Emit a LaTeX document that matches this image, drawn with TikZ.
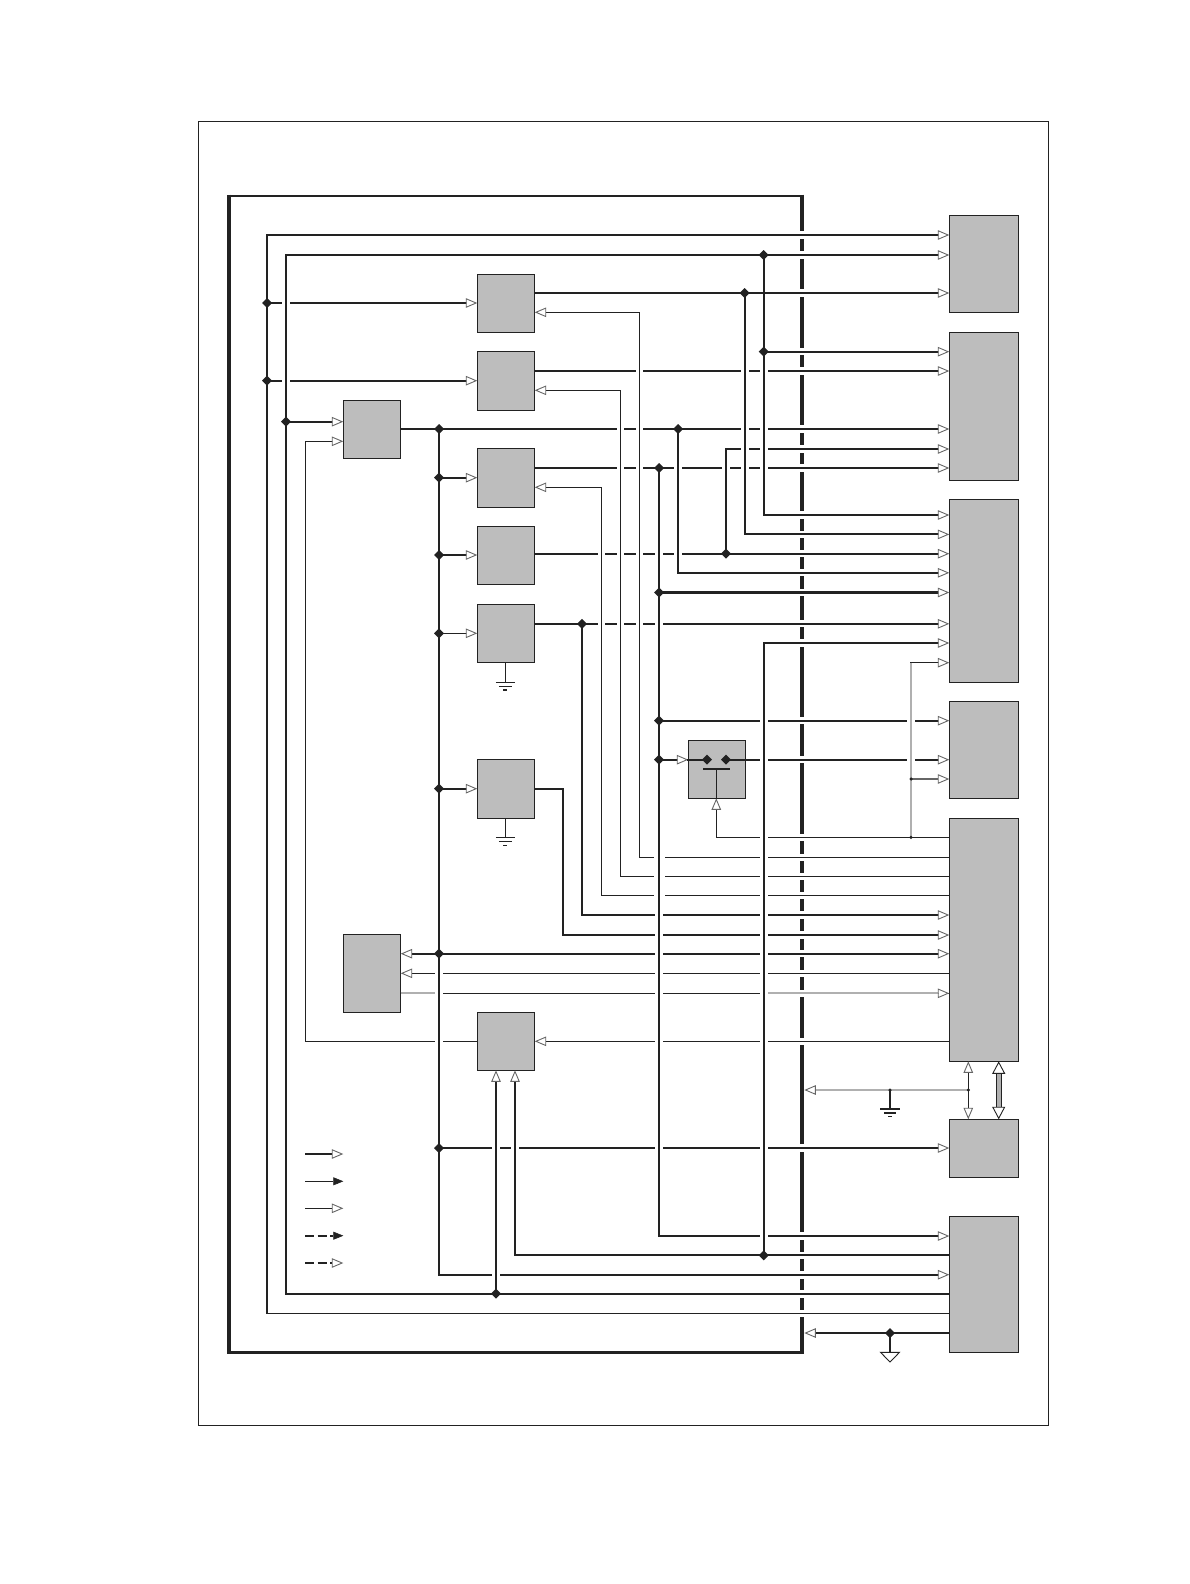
\documentclass[tikz,border=0pt]{standalone}
\usetikzlibrary{arrows.meta,shapes.geometric}
\definecolor{ink}{HTML}{222222}
\definecolor{blockgray}{HTML}{BDBDBD}
\definecolor{headgray}{HTML}{666666}
\definecolor{palegray}{HTML}{B0B0B0}
\tikzset{
  x=1pt,y=-1pt,
  blockbox/.style={rectangle,draw=ink,fill=blockgray,line width=1pt,inner sep=0pt,outer sep=0pt},
  wthick/.style={draw=ink,line width=2.1pt,line cap=rect},
  wthin/.style={draw=ink,line width=1.05pt,line cap=rect},
  wgray/.style={draw=palegray,line width=1.8pt},
  wmid/.style={draw=headgray,line width=1.1pt},
  buswide/.style={draw=ink,line width=3.8pt,line cap=butt,shorten <=-1.4pt,shorten >=-1.4pt},
  busflat/.style={draw=ink,line width=2.8pt,line cap=butt},
  opn/.tip={Triangle[length=11.5pt,width=9.5pt,color=headgray,fill=white,line width=.9pt]},
  fil/.tip={Triangle[length=10pt,width=8pt,color=ink,fill=ink,line width=.5pt]},
  bigopn/.tip={Triangle[length=12.5pt,width=13pt,color=ink,fill=white,line width=.9pt]},
  toopen/.style={-{opn}},
  fromopen/.style={{opn}-},
  jdia/.style={diamond,fill=ink,inner sep=0pt,outer sep=0pt,minimum size=10pt},
  jdot/.style={circle,fill=ink,inner sep=0pt,outer sep=0pt,minimum size=3.5pt},
}
\newcommand{\blk}[5]{\node[blockbox,minimum width=#4-#2,minimum height=#5-#3] (#1) at ({(#2+#4)/2},{(#3+#5)/2}) {};}
\newcommand{\gbars}[4]{%
  \draw[wthin,line cap=butt] ([xshift=-#2pt]#1) -- ([xshift=#2pt]#1);
  \draw[wthin,line cap=butt] ([xshift=-#3pt,yshift=-4pt]#1) -- ([xshift=#3pt,yshift=-4pt]#1);
  \draw[wthin,line cap=butt] ([xshift=-#4pt,yshift=-7.7pt]#1) -- ([xshift=#4pt,yshift=-7.7pt]#1);}
\begin{document}
\begin{tikzpicture}
\useasboundingbox (0,0) rectangle (1190,1584);
\fill[white] (0,0) rectangle (1190,1584);
\draw[draw=ink,line width=.9pt] (198,121) rectangle (1048.5,1425.5);

% blocks
\blk{A}{477.3}{274.3}{534.7}{332.7}
\blk{B}{477.3}{351.3}{534.7}{410.3}
\blk{D}{477.3}{448.3}{534.7}{507.3}
\blk{E}{477.3}{526.3}{534.7}{584.3}
\blk{F}{477.3}{604.3}{534.7}{662.5}
\blk{G}{477.3}{759.7}{534.7}{818.3}
\blk{H}{477.3}{1012.3}{534.7}{1070.3}
\blk{C}{343.3}{400.3}{400.7}{458.3}
\blk{L}{343.3}{934.3}{400.7}{1012.3}
\blk{S}{688.3}{740.3}{745.7}{798.3}
\blk{Ra}{949.3}{215.3}{1018.7}{312.3}
\blk{Rb}{949.3}{332.3}{1018.7}{480.3}
\blk{Rc}{949.3}{499.3}{1018.7}{682.3}
\blk{Rd}{949.3}{701.3}{1018.7}{798.3}
\blk{Re}{949.3}{818.3}{1018.7}{1061.3}
\blk{Rf}{949.3}{1119.3}{1018.7}{1177.3}
\blk{Rg}{949.3}{1216.3}{1018.7}{1352.7}

% named points
\coordinate (busNW) at (229,196);
\coordinate (busNE) at (802.2,196);
\coordinate (busSW) at (229,1352.5);
\coordinate (busSE) at (802.2,1352.5);
\coordinate (tA) at (267,235);
\coordinate (tB) at (286,255);
\coordinate (bA) at (267,1313.3);
\coordinate (bB) at (286,1293.7);
\coordinate (jaA) at (267,303);
\coordinate (jaB) at (267,380.7);
\coordinate (jbC) at (286,421.7);
\coordinate (kC) at (305.3,441.3);
\coordinate (kH) at (305.3,1041.3);
\coordinate (jmT) at (439,429);
\coordinate (jmD) at (439,477.7);
\coordinate (jmE) at (439,555);
\coordinate (jmF) at (439,633.3);
\coordinate (jmG) at (439,788.7);
\coordinate (jmL) at (439,953.7);
\coordinate (jmR) at (439,1148);
\coordinate (bM) at (439,1274.7);
\coordinate (jw1) at (763.7,255);
\coordinate (j293) at (744.7,293);
\coordinate (jw2) at (763.7,351.7);
\coordinate (kw3) at (763.7,515);
\coordinate (k534) at (744.7,534.4);
\coordinate (y371) at (600,371);
\coordinate (j678) at (678,429);
\coordinate (k726) at (726,449);
\coordinate (j659) at (659,468);
\coordinate (j726) at (726,553.7);
\coordinate (k678) at (678,572.8);
\coordinate (j592) at (659,592.5);
\coordinate (j582) at (582,623.8);
\coordinate (k643) at (763.7,643);
\coordinate (k662) at (911,662.7);
\coordinate (j720) at (659,720.7);
\coordinate (j759) at (659,759.7);
\coordinate (dL) at (707,759.7);
\coordinate (dR) at (726,759.7);
\coordinate (barL) at (703,769);
\coordinate (barR) at (730,769);
\coordinate (barM) at (716.3,769);
\coordinate (d779) at (911,779);
\coordinate (d837) at (911,837.3);
\coordinate (k837) at (716.3,837.3);
\coordinate (qa) at (639.5,312.3);
\coordinate (qab) at (639.5,857.3);
\coordinate (qb) at (620.3,390.3);
\coordinate (qbb) at (620.3,876.3);
\coordinate (qc) at (601.3,487.3);
\coordinate (qcb) at (601.3,895.7);
\coordinate (k915) at (582,915);
\coordinate (g788) at (563,788.7);
\coordinate (k935) at (563,935);
\coordinate (y973) at (600,973.3);
\coordinate (y993) at (600,993.3);
\coordinate (g993a) at (435,993.3);
\coordinate (g993b) at (768,993.3);
\coordinate (k1236) at (659,1236);
\coordinate (j1255) at (763.7,1255.3);
\coordinate (k1255) at (515,1255.3);
\coordinate (j1294) at (496,1293.7);
\coordinate (d1090a) at (968.3,1090);
\coordinate (d1090b) at (890,1090);
\coordinate (bus1090) at (804.3,1090);
\coordinate (bus1333) at (804.3,1333);
\coordinate (j1333) at (890,1333);
\coordinate (gF) at (505.3,682.3);
\coordinate (gG) at (505.3,837.5);
\coordinate (gX) at (890,1109);
\coordinate (triTop) at (890,1352.3);
\coordinate (triL) at (880.5,1352.3);
\coordinate (triR) at (899.5,1352.3);
\coordinate (triB) at (890,1362);
\coordinate (xa) at (968.3,1061.3);
\coordinate (xb) at (998.7,1061.3);

% backbone
\draw[buswide] (busNW) -- (busSW);
\draw[buswide] (busNE) -- (busSE);
\draw[busflat] (busNW) -- (busNE);
\draw[busflat] (busSW) -- (busSE);
\foreach \y in {235,255,293,351.7,371,429,449,468,515,534.4,553.7,572.8,592.5,623.8,643,720.7,759.7,837.3,857.3,876.3,895.7,915,935,953.7,973.3,993.3,1041.3,1148,1236,1255.3,1275,1294,1313.3}
  \fill[white] (796,{\y-3.6}) rectangle (808,{\y+3.6});

% horizontal wires
\draw[wthick,toopen] (tA) -- (Ra.west |- tA);
\draw[wthick,toopen] (tB) -- (Ra.west |- tB);
\draw[wthick,toopen] (A.east |- j293) -- (Ra.west |- j293);
\draw[wthick,toopen] (jaA) -- (A.west |- jaA);
\draw[wthick,toopen] (jaB) -- (B.west |- jaB);
\draw[wthick,toopen] (jw2) -- (Rb.west |- jw2);
\draw[wthick,toopen] (B.east |- y371) -- (Rb.west |- y371);
\draw[wthick,toopen] (jbC) -- (C.west |- jbC);
\draw[wthick,toopen] (C.east |- jmT) -- (Rb.west |- jmT);
\draw[wthick,toopen] (k726) -- (Rb.west |- k726);
\draw[wthick,toopen] (D.east |- j659) -- (Rb.west |- j659);
\draw[wthick,toopen] (jmD) -- (D.west |- jmD);
\draw[wthick,toopen] (jmE) -- (E.west |- jmE);
\draw[wthin,toopen] (jmF) -- (F.west |- jmF);
\draw[wthick,toopen] (jmG) -- (G.west |- jmG);
\draw[wthick] (G.east |- g788) -- (g788);
\draw[wthick,toopen] (kw3) -- (Rc.west |- kw3);
\draw[wthick,toopen] (k534) -- (Rc.west |- k534);
\draw[wthick,toopen] (E.east |- j726) -- (Rc.west |- j726);
\draw[wthick,toopen] (k678) -- (Rc.west |- k678);
\draw[wthick,toopen] (j592) -- (Rc.west |- j592);
\draw[wthick,toopen] (F.east |- j582) -- (Rc.west |- j582);
\draw[wthick,toopen] (k643) -- (Rc.west |- k643);
\draw[wthin,toopen] (k662) -- (Rc.west |- k662);
\draw[wthick,toopen] (j720) -- (Rd.west |- j720);
\draw[wthick,toopen] (j759) -- (S.west |- j759);
\draw[wthick] (S.west |- j759) -- (dL);
\draw[wthick,toopen] (dR) -- (Rd.west |- dR);
\draw[wmid,toopen] (d779) -- (Rd.west |- d779);
\draw[wthin] (Re.west |- k837) -- (k837);
\draw[wthin,fromopen] (A.east |- qa) -- (qa);
\draw[wthin,fromopen] (B.east |- qb) -- (qb);
\draw[wthin,fromopen] (D.east |- qc) -- (qc);
\draw[wthin] (qab) -- (Re.west |- qab);
\draw[wthin] (qbb) -- (Re.west |- qbb);
\draw[wthin] (qcb) -- (Re.west |- qcb);
\draw[wthick,toopen] (k915) -- (Re.west |- k915);
\draw[wthick,toopen] (k935) -- (Re.west |- k935);
\draw[wthick,{opn}-{opn}] (L.east |- jmL) -- (Re.west |- jmL);
\draw[wthin,fromopen] (L.east |- y973) -- (Re.west |- y973);
\draw[wthin] (L.east |- y993) -- (Re.west |- y993);
\draw[wthin,fromopen] (H.east |- kH) -- (Re.west |- kH);
\draw[wthin] (kH) -- (H.west |- kH);
\draw[wthin,toopen] (kH |- kC) -- (C.west |- kC);
\draw[wthick,toopen] (jmR) -- (Rf.west |- jmR);
\draw[wthick,toopen] (k1236) -- (Rg.west |- k1236);
\draw[wthick] (k1255) -- (Rg.west |- k1255);
\draw[wthick,toopen] (bM) -- (Rg.west |- bM);
\draw[wthick] (bB) -- (Rg.west |- bB);
\draw[wthin] (bA) -- (Rg.west |- bA);
\draw[wthick,fromopen] (bus1333) -- (Rg.west |- bus1333);

% crossing gaps in the horizontal wires
\foreach \x/\y/\h in {
  286/303/4.2, 286/380.7/4.2,
  639.5/371/3.5, 744.7/371/4.2, 763.7/371/3.9,
  620.3/429/3.7, 639.5/429/3.5, 744.7/429/4.2, 763.7/429/3.9,
  744.7/449/4.2, 763.7/449/3.9,
  620.3/468/3.7, 639.5/468/3.5, 678/468/4, 726/468/3.7, 744.7/468/4.2, 763.7/468/3.9,
  601.3/553.7/3.5, 620.3/553.7/3.5, 639.5/553.7/3.5, 659/553.7/4, 678/553.7/4,
  601.3/623.8/3.5, 620.3/623.8/3.5, 639.5/623.8/3.5, 659/623.8/4,
  763.7/720.7/3.9, 911/720.7/4.2, 763.7/759.7/3.9, 911/759.7/4.2,
  763.7/837.3/3.9,
  659/857.3/5.5, 763.7/857.3/3.9, 659/876.3/5.5, 763.7/876.3/3.9, 659/895.7/5.5, 763.7/895.7/3.9,
  659/915/4, 763.7/915/3.9, 659/935/4, 763.7/935/3.9, 659/953.7/4, 763.7/953.7/3.9,
  439/973.3/4, 659/973.3/4, 763.7/973.3/3.9,
  439/993.3/4, 659/993.3/4, 763.7/993.3/3.9,
  439/1041.3/4, 659/1041.3/4, 763.7/1041.3/3.9,
  496/1148/4, 515/1148/4.2, 659/1148/4, 763.7/1148/3.9,
  763.7/1236/3.9, 496/1275/4}
  \fill[white] ({\x-\h},{\y-2}) rectangle ({\x+\h},{\y+2});

% pale overlays
\draw[wgray] (L.east |- y993) -- (g993a);
\draw[wgray,toopen] (g993b) -- (Re.west |- y993);
\draw[wgray,-{opn}] (d1090a) -- (bus1090);

% vertical wires
\draw[wthick] (tA) -- (bA);
\draw[wthick] (tB) -- (bB);
\draw[wthick,line width=2.3pt] (jmT) -- (bM);
\draw[wthick] (jw1) -- (kw3);
\draw[wthick] (j293) -- (k534);
\draw[wthick] (j678) -- (k678);
\draw[wthick] (k726) -- (j726);
\draw[wthick] (j659) -- (k1236);
\draw[wthick] (j582) -- (k915);
\draw[wthick] (g788) -- (k935);
\draw[wthick] (k643) -- (j1255);
\draw[wthin] (qa) -- (qab);
\draw[wthin] (qb) -- (qbb);
\draw[wthin] (qc) -- (qcb);
\draw[wthin] (kC) -- (kH);
\draw[wgray] (k662) -- (d837);
\draw[wthin,line cap=butt,-{opn}] (k837) -- (S.south -| k837);
\draw[wthin] (barM) -- (S.south -| barM);
\draw[wthick,line cap=butt] (barL) -- (barR);
\draw[wthick,line cap=butt,-{opn}] (j1294) -- (H.south -| j1294);
\draw[wthick,line cap=butt,-{opn}] (k1255) -- (H.south -| k1255);
\draw[wthin,line cap=butt,{opn}-{opn}] (xa) -- (Rf.north -| xa);
\draw[line width=.9pt,draw=ink,double=palegray,double distance=4.4pt,{bigopn}-{bigopn}] (xb) -- (Rf.north -| xb);
\draw[wthin] (d1090b) -- (gX);
\draw[wthick,line cap=butt] (j1333) -- (triTop);
\draw[draw=ink,line width=.9pt,fill=white] (triL) -- (triR) -- (triB) -- cycle;

% grounds
\draw[wthin,line cap=butt] (F.south -| gF) -- (gF);
\gbars{gF}{9.5}{6.5}{2}
\draw[wthin,line cap=butt] (G.south -| gG) -- (gG);
\gbars{gG}{9.5}{6.5}{2}
\gbars{gX}{10}{6}{2}

% junction marks
\foreach \n in {jaA,jaB,jbC,jmT,jmD,jmE,jmF,jmG,jmL,jmR,jw1,j293,jw2,j678,j659,j726,j592,j582,j720,j759,dL,dR,j1255,j1294,j1333}
  \node[jdia] (m\n) at (\n) {};
\foreach \n in {d779,d837,d1090a,d1090b}
  \node[jdot] (m\n) at (\n) {};

% legend
\coordinate (la) at (305,1154);   \coordinate (lb) at (343.3,1154);
\coordinate (lc) at (305,1181.3); \coordinate (ld) at (343.3,1181.3);
\coordinate (le) at (305,1208.3); \coordinate (lf) at (343.3,1208.3);
\coordinate (lg) at (305,1235.7); \coordinate (lh) at (343.3,1235.7);
\coordinate (li) at (305,1263);   \coordinate (lj) at (343.3,1263);
\draw[wthick,line cap=butt,-{opn}] (la) -- (lb);
\draw[wthin,line cap=butt,-{fil}] (lc) -- (ld);
\draw[wthin,line cap=butt,-{opn}] (le) -- (lf);
\draw[wthick,line cap=butt,dash pattern=on 9pt off 3.5pt,-{fil}] (lg) -- (lh);
\draw[wthick,line cap=butt,dash pattern=on 9pt off 3.5pt,-{opn}] (li) -- (lj);
\end{tikzpicture}
\end{document}
